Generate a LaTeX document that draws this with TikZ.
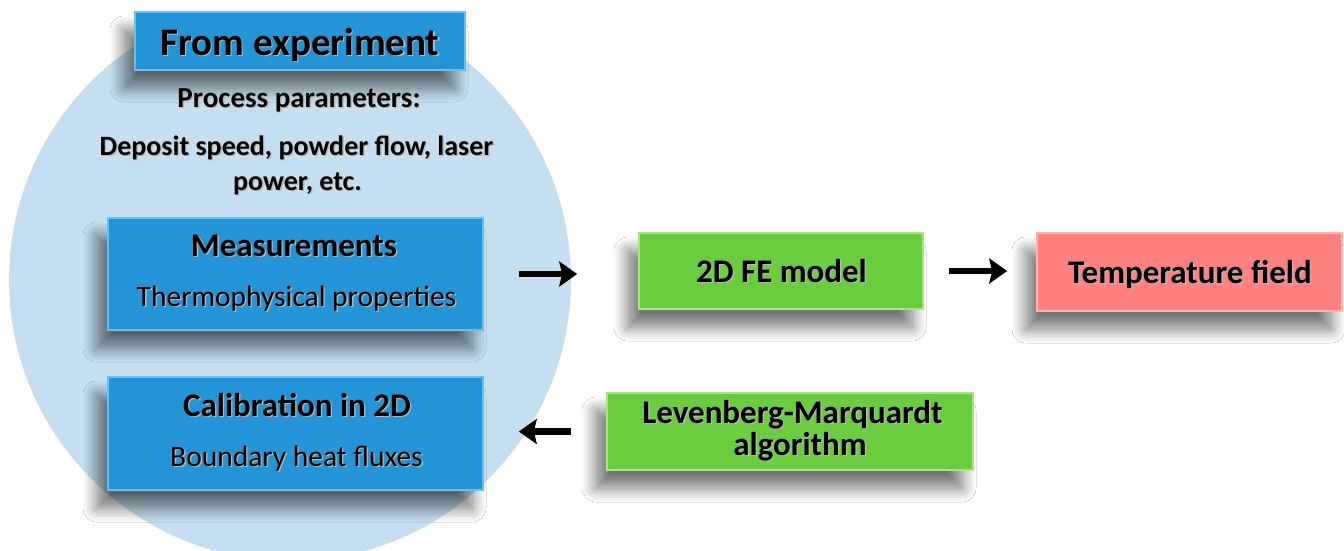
\documentclass[tikz,border=0pt]{standalone}
\usepackage{fontspec}
\setmainfont{Carlito}
\usetikzlibrary{shadows.blur,arrows.meta}
\definecolor{circfill}{RGB}{197,223,240}
\definecolor{bluefill}{RGB}{36,148,214}
\definecolor{blueedge}{RGB}{105,190,240}
\definecolor{greenfill}{RGB}{108,204,64}
\definecolor{greenedge}{RGB}{165,232,125}
\definecolor{redfill}{RGB}{255,128,128}
\definecolor{rededge}{RGB}{255,178,178}
\newcommand{\fs}[1]{\fontsize{#1}{#1}\selectfont}
% text with a soft grey drop shadow
\newcommand{\shtext}[1]{\leavevmode\rlap{\kern1.3pt\raisebox{-1.3pt}{\textcolor{black!28}{#1}}}#1}
\begin{document}
\begin{tikzpicture}[x=1pt,y=-1pt,
  box/.style={rectangle, inner sep=0pt, line width=1.6pt,
    blur shadow={shadow xshift=-11pt, shadow yshift=-18pt,
      shadow blur radius=14pt, shadow blur steps=12, shadow opacity=55}},
  bluebox/.style={box, fill=bluefill, draw=blueedge},
  greenbox/.style={box, fill=greenfill, draw=greenedge},
  redbox/.style={box, fill=redfill, draw=rededge},
  txt/.style={inner sep=0pt, anchor=base},
  head/.style={txt, font=\fs{33}\bfseries},
  sub/.style={txt, font=\fs{29.5}},
  flow/.style={line width=6.5pt, -{Stealth[length=18pt,width=25pt,inset=3pt]}}
]
\useasboundingbox (0,0) rectangle (1344,550);
\fill[white] (0,0) rectangle (1344,550);

% experiment disc, cut off under the heading
\begin{scope}
  \clip (0,12) rectangle (1344,550);
  \fill[circfill] (290,280) circle (281pt);
\end{scope}

% boxes
\node[bluebox, minimum width=330pt, minimum height=58pt] (exp) at (300,41) {};
\node[bluebox, minimum width=375pt, minimum height=112pt] (meas) at (295.5,274) {};
\node[bluebox, minimum width=375pt, minimum height=113pt] (calib) at (295.5,433.5) {};
\node[greenbox, minimum width=284pt, minimum height=76pt] (fe) at (781,271) {};
\node[redbox, minimum width=305pt, minimum height=78pt] (temp) at (1189.5,272) {};
\node[greenbox, minimum width=366pt, minimum height=77pt] (lm) at (790,431.5) {};

% texts
\node[txt, font=\fs{39}\bfseries] (expT) at (300,55) {\shtext{From experiment}};
\node[txt, font=\fs{29}\bfseries] (params) at (299,107) {\shtext{Process parameters:}};
\node[txt, font=\fs{28}\bfseries] (paramsA) at (296.5,155) {\shtext{Deposit speed, powder flow, laser}};
\node[txt, font=\fs{28}\bfseries] (paramsB) at (297.5,190) {\shtext{power, etc.}};

\node[head] (measT) at (294,256) {\shtext{Measurements}};
\node[sub] (measS) at (296.5,306.5) {\shtext{Thermophysical properties}};
\node[head] (calibT) at (297,416) {\shtext{Calibration in 2D}};
\node[sub] (calibS) at (296.5,466.5) {\shtext{Boundary heat fluxes}};

\node[head] (feT) at (781.5,282) {\shtext{2D FE model}};
\node[head] (tempT) at (1190,283) {\shtext{Temperature field}};
\node[head] (lmT) at (792.5,423) {\shtext{Levenberg-Marquardt}};
\node[head] (lmS) at (800,455) {\shtext{algorithm}};

% connectors
\draw[flow, shorten <=35pt, shorten >=61pt] (meas.east) -- (meas.east -| fe.west);
\draw[flow, shorten <=25pt, shorten >=29pt] (fe.east) -- (fe.east -| temp.west);
\draw[flow, shorten <=35pt, shorten >=35pt] (lm.west) -- (lm.west -| calib.east);
\end{tikzpicture}
\end{document}
